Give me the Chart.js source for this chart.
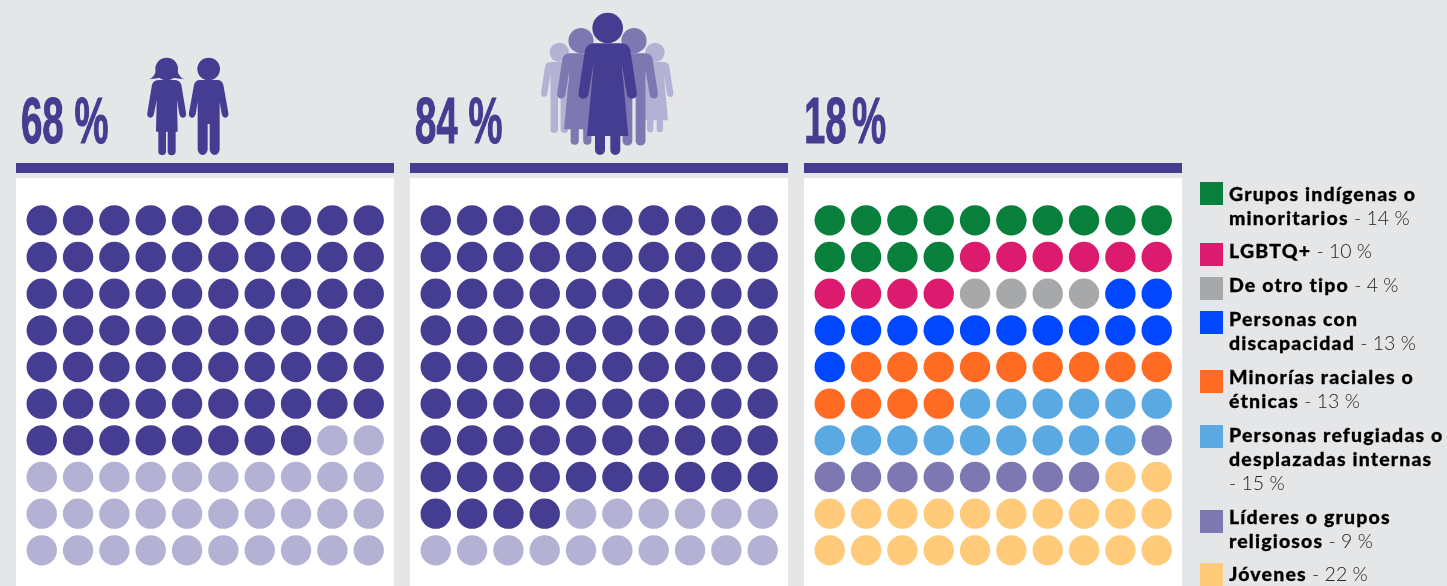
<!DOCTYPE html>
<html lang="es">
<head>
<meta charset="utf-8">
<title>Waffle</title>
<script src="https://cdn.jsdelivr.net/npm/chart.js@4"></script>
<style>
html,body{margin:0;padding:0;background:#e5e6e8;}
body{width:1447px;height:586px;position:relative;overflow:hidden;}
.bar{position:absolute;top:163px;width:378px;height:10px;background:#443d91;}
.panel{position:absolute;top:178px;width:378px;height:408px;background:#fff;}
.pct{position:absolute;top:85px;font:bold 64px/72px "Liberation Sans Narrow","Liberation Sans";color:#443d91;transform-origin:0 0;transform:scaleX(.6);white-space:pre;-webkit-text-stroke:1px #443d91;will-change:transform;}
.sw{position:absolute;left:1200px;width:23px;height:23px;}
.leg{position:absolute;left:1229px;width:218px;font:300 19.5px/24px Lato;color:#222;white-space:pre;will-change:transform;}
.leg b{font-weight:900;color:#000;letter-spacing:1.15px;-webkit-text-stroke:.3px #000;}
#people{position:absolute;left:0;top:0;}
</style>
</head>
<body>
<svg id="people" width="1447" height="170" viewBox="0 0 1447 170">
  <defs>
    <g id="woman">
      <circle cx="0" cy="0" r="46"/>
      <path d="M-40 46L40 46Q62 46 68 66L87 191Q90 212 72 212Q60 212 57 196L42 106L62 324L-62 324L-42 106L-57 196Q-60 212 -72 212Q-90 212 -87 191L-68 66Q-62 46 -40 46Z"/>
      <path d="M-38 320H-8V366A15 15 0 0 1 -38 366ZM8 320H38V366A15 15 0 0 1 8 366Z"/>
    </g>
    <g id="man">
      <circle cx="0" cy="0" r="46"/>
      <path d="M-40 46L40 46Q62 46 68 66L87 191Q90 212 72 212Q60 212 57 196L42 106V366A18 18 0 0 1 6 366V200H-6V366A18 18 0 0 1 -42 366V106L-57 196Q-60 212 -72 212Q-90 212 -87 191L-68 66Q-62 46 -40 46Z"/>
    </g>
  </defs>
  <g transform="scale(.33333)" fill="#443d91">
    <!-- nina -->
    <circle cx="500" cy="207" r="34"/>
    <path d="M447 238Q462 232 468 212L532 212Q538 232 553 238L522 234L478 234Z"/>
    <path d="M478 240H522Q540 240 544 254L558 338Q560 352 549 353Q541 353 538 342L531 300L533 395H468L470 300L462 342Q459 353 451 353Q440 352 442 338L456 254Q460 240 478 240Z"/>
    <path d="M475 390H498V454A11.500 11.500 0 0 1 475 454ZM503 390H527V454A12 12 0 0 1 503 454Z"/>
    <!-- nino -->
    <circle cx="626" cy="207" r="34"/>
    <path d="M600 240H652Q666 240 670 254L685 338Q687 352 676 353Q668 353 665 342L659 306V447A15 18 0 0 1 629 447V372H623V447A15 18 0 0 1 593 447V306L587 342Q584 353 576 353Q565 352 567 338L582 254Q586 240 600 240Z"/>
    <!-- grupo -->
    <g transform="translate(1560 0)">
      <use href="#man" fill="#b4b2d4" transform="translate(118 157) scale(.63)"/>
      <use href="#woman" fill="#b4b2d4" transform="translate(405 157) scale(.63)"/>
      <use href="#woman" fill="#7d78b1" transform="translate(183 122) scale(.82)"/>
      <use href="#man" fill="#7d78b1" transform="translate(342 122) scale(.82)"/>
      <use href="#woman" transform="translate(263 84)"/>
    </g>
  </g>
</svg>

<div class="pct" style="left:21px">68 %</div>
<div class="pct" style="left:415px">84 %</div>
<div class="pct" style="left:804px;word-spacing:-9px">18 %</div>

<div class="bar" style="left:16px"></div>
<div class="bar" style="left:410px"></div>
<div class="bar" style="left:804px"></div>

<div class="panel" style="left:16px"><canvas id="c1" width="378" height="408"></canvas></div>
<div class="panel" style="left:410px"><canvas id="c2" width="378" height="408"></canvas></div>
<div class="panel" style="left:804px"><canvas id="c3" width="378" height="408"></canvas></div>

<script>
// cuantos circulos de cada color hay en cada cuadro
var counts1 = [68, 32];
var counts2 = [84, 16];
var counts3 = [14, 10, 4, 13, 13, 15, 9, 22];

var labels3 = [
  "Grupos indígenas o\nminoritarios",
  "LGBTQ+",
  "De otro tipo",
  "Personas con\ndiscapacidad",
  "Minorías raciales o\nétnicas",
  "Personas refugiadas o\ndesplazadas internas\n",
  "Líderes o grupos\nreligiosos",
  "Jóvenes"
];

var colors12 = ["#443d91", "#b4b2d4"];
var colors3 = ["#08803c", "#dc1b6e", "#a7a8aa", "#0047ff", "#ff6b23", "#5aa9e2", "#7d78b1", "#ffcb7a"];
var swatchTops = [182, 243, 277, 311, 370, 425, 510, 563];
var textTops = [182, 239, 273, 307, 365, 423, 505, 562];

function makeDatasets(counts, colors){
  var datasets = [];
  var n = 0;
  for(var i = 0; i < counts.length; i++){
    var pts = [];
    for(var k = 0; k < counts[i]; k++){
      pts.push({x: n % 10, y: Math.floor(n / 10)});
      n++;
    }
    datasets.push({data: pts, backgroundColor: colors[i], borderWidth: 0, pointRadius: 15.2, pointHoverRadius: 15.2, clip: false});
  }
  return datasets;
}

function drawWaffle(id, counts, colors){
  new Chart(document.getElementById(id), {
    type: "scatter",
    data: {datasets: makeDatasets(counts, colors)},
    options: {
      responsive: false,
      animation: false,
      layout: {padding: 0},
      plugins: {legend: {display: false}, tooltip: {enabled: false}},
      scales: {
        // el area queda recortada por el radio del punto, por eso estos limites
        x: {type: "linear", display: false, min: -0.29, max: 9.278},
        y: {type: "linear", display: false, reverse: true, min: -0.74, max: 9.558}
      }
    }
  });
}

drawWaffle("c1", counts1, colors12);
drawWaffle("c2", counts2, colors12);
drawWaffle("c3", counts3, colors3);

// leyenda
for(var i = 0; i < labels3.length; i++){
  var sw = document.createElement("div");
  sw.className = "sw";
  sw.style.top = swatchTops[i] + "px";
  sw.style.background = colors3[i];
  document.body.appendChild(sw);

  var parts = labels3[i].split("\n");
  var last = parts.pop();
  var leg = document.createElement("div");
  leg.className = "leg";
  leg.style.top = textTops[i] + "px";
  var html = "";
  for(var p = 0; p < parts.length; p++){ html += "<b>" + parts[p] + "</b>\n"; }
  html += (last ? "<b>" + last + "</b> " : "") + "- " + counts3[i] + " %";
  leg.innerHTML = html;
  document.body.appendChild(leg);
}
</script>
</body>
</html>
